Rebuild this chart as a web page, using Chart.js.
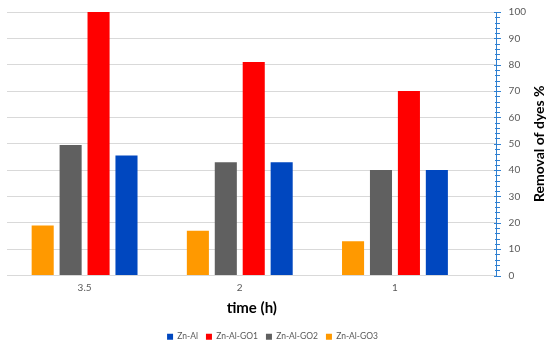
<!DOCTYPE html>
<html>
<head>
<meta charset="utf-8">
<script src="https://cdn.jsdelivr.net/npm/chart.js@4.4.1/dist/chart.umd.min.js"></script>
<style>
  html, body { margin: 0; padding: 0; background: #fff; }
  #wrap { width: 550px; height: 348px; }
</style>
</head>
<body>
<div id="wrap"><canvas id="myChart"></canvas></div>
<script>
// time (h) categories, left to right
var times = ['3.5', '2', '1'];

// removal of dyes % for each sample
var znAl    = [45.5, 43, 40];
var znAlGO1 = [100, 81, 70];
var znAlGO2 = [49.5, 43, 40];
var znAlGO3 = [19, 17, 13];

// y axis range
var yMin = 0, yMax = 100, yStep = 10, yMinor = 2;

var axisBlue = '#2F80D1';
var textGray = '#595959';

function points(arr) {
    return arr.map(function (v, i) { return { x: i, y: v }; });
}

// draws the little tick marks on the blue axis and the rotated axis title
var axisDecor = {
    id: 'axisDecor',
    afterDraw: function (chart) {
        var ctx = chart.ctx;
        var ys = chart.scales.y;
        var ax = Math.round(chart.chartArea.right) + 0.5;
        ctx.save();
        ctx.strokeStyle = axisBlue;
        ctx.lineWidth = 1;
        for (var v = yMin; v <= yMax; v += yMinor) {
            var py = Math.round(ys.getPixelForValue(v)) + 0.5;
            var half = (v % yStep === 0) ? 3.5 : 2.5;
            ctx.beginPath();
            ctx.moveTo(ax - half, py);
            ctx.lineTo(ax + half, py);
            ctx.stroke();
        }
        ctx.translate(539, (chart.chartArea.top + chart.chartArea.bottom) / 2);
        ctx.rotate(-Math.PI / 2);
        ctx.font = 'bold 14px Lato';
        ctx.fillStyle = '#000';
        ctx.textAlign = 'center';
        ctx.textBaseline = 'middle';
        ctx.fillText('Removal of dyes %', 0, 0);
        ctx.restore();
    }
};

var ctx = document.getElementById('myChart').getContext('2d');
var myChart = new Chart(ctx, {
    type: 'bar',
    data: {
        datasets: [
            { label: 'Zn-Al-GO3', data: points(znAlGO3), backgroundColor: '#FF9900' },
            { label: 'Zn-Al-GO2', data: points(znAlGO2), backgroundColor: '#606060' },
            { label: 'Zn-Al-GO1', data: points(znAlGO1), backgroundColor: '#FF0000' },
            { label: 'Zn-Al',     data: points(znAl),    backgroundColor: '#0047BF' }
        ]
    },
    options: {
        responsive: true,
        maintainAspectRatio: false,
        animation: false,
        categoryPercentage: 0.72,
        barPercentage: 0.79,
        layout: { padding: { left: 7, right: 12, top: 12, bottom: -3 } },
        plugins: {
            tooltip: { enabled: false },
            legend: {
                position: 'bottom',
                reverse: true,
                labels: {
                    boxWidth: 6,
                    boxHeight: 6,
                    padding: 8,
                    color: textGray,
                    font: { family: 'Lato', size: 8.5 }
                }
            }
        },
        scales: {
            x: {
                type: 'linear',
                offset: false,
                min: -0.5,
                max: 2.655,
                afterBuildTicks: function (scale) {
                    scale.ticks = times.map(function (t, i) { return { value: i }; });
                },
                grid: { display: false, drawTicks: false, offset: false },
                border: { display: false },
                ticks: {
                    autoSkip: false,
                    maxRotation: 0,
                    padding: 6,
                    color: textGray,
                    font: { family: 'Lato', size: 10 },
                    callback: function (v) { return times[v]; }
                },
                title: {
                    display: true,
                    text: 'time (h)',
                    color: '#000',
                    padding: { top: 0, bottom: 7 },
                    font: { family: 'Lato', size: 15, weight: 'bold' }
                }
            },
            y: {
                position: 'right',
                min: yMin,
                max: yMax,
                afterFit: function (scale) {
                    scale.paddingTop = 6;
                    scale.paddingBottom = 6;
                },
                grid: { color: '#D9D9D9', drawTicks: false },
                border: { display: true, color: axisBlue, width: 1 },
                ticks: {
                    stepSize: yStep,
                    padding: 12,
                    color: textGray,
                    font: { family: 'Lato', size: 10 }
                }
            }
        }
    },
    plugins: [axisDecor]
});
</script>
</body>
</html>
